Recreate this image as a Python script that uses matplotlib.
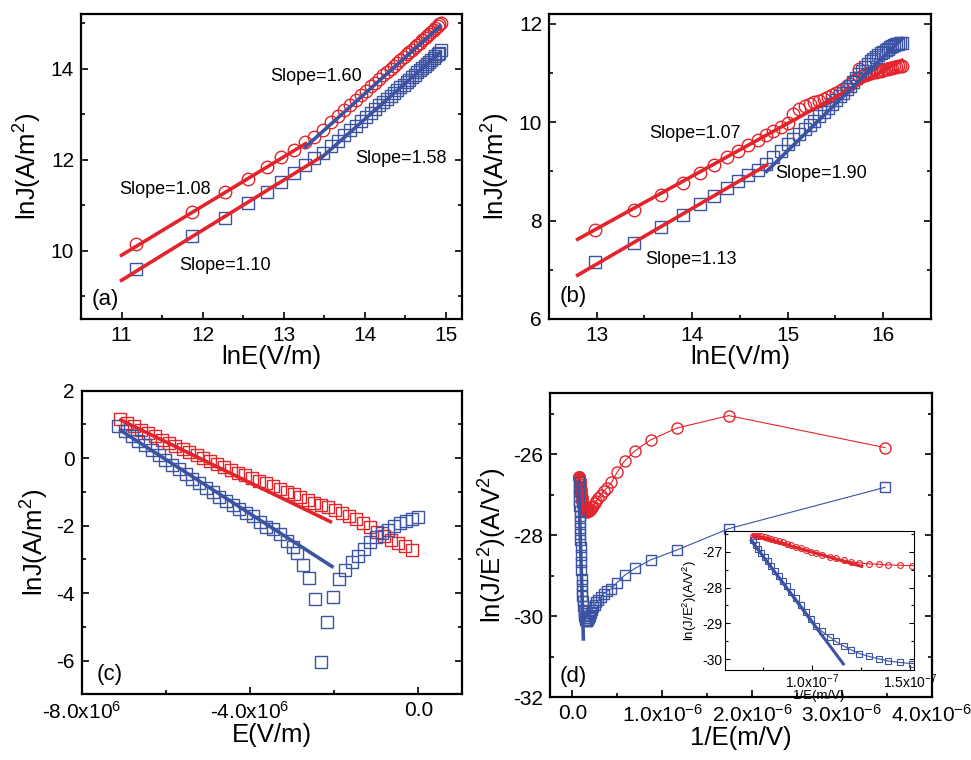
import matplotlib

matplotlib.use("Agg")
import matplotlib.pyplot as plt
import numpy as np
from matplotlib.ticker import FuncFormatter, MultipleLocator

plt.rcParams["font.family"] = ["Liberation Sans", "DejaVu Sans"]
plt.rcParams["mathtext.fontset"] = "custom"
plt.rcParams["mathtext.rm"] = "Liberation Sans"
plt.rcParams["mathtext.it"] = "Liberation Sans:italic"
plt.rcParams["mathtext.bf"] = "Liberation Sans:bold"
plt.rcParams["axes.unicode_minus"] = False

RED = "#e3242b"
BLUE = "#3c52a3"

# (a) lnJ vs lnE, two samples
lnE_a = [11.18, 11.87, 12.28, 12.56, 12.79, 12.97, 13.13, 13.26, 13.38, 13.48,
         13.58, 13.67, 13.75, 13.82, 13.89, 13.96, 14.02, 14.08, 14.13, 14.18,
         14.23, 14.28, 14.32, 14.36, 14.40, 14.44, 14.48, 14.52, 14.55, 14.58,
         14.62, 14.65, 14.68, 14.71, 14.74, 14.77, 14.79, 14.82, 14.85, 14.87,
         14.90, 14.92, 14.94]
lnJ_a_circle = [10.15, 10.85, 11.28, 11.58, 11.83, 12.05, 12.22, 12.38, 12.50, 12.66,
                12.82, 12.96, 13.09, 13.20, 13.31, 13.42, 13.51, 13.61, 13.69, 13.77,
                13.85, 13.93, 13.99, 14.05, 14.12, 14.18, 14.25, 14.31, 14.36, 14.41,
                14.47, 14.52, 14.57, 14.62, 14.67, 14.72, 14.75, 14.80, 14.85, 14.89,
                14.94, 14.98, 15.01]
lnJ_a_square = [9.60, 10.32, 10.72, 11.04, 11.30, 11.51, 11.70, 11.88, 12.03, 12.15,
                12.29, 12.42, 12.54, 12.65, 12.75, 12.85, 12.94, 13.03, 13.11, 13.19,
                13.27, 13.34, 13.40, 13.47, 13.53, 13.59, 13.65, 13.71, 13.76, 13.81,
                13.87, 13.92, 13.97, 14.01, 14.06, 14.11, 14.14, 14.19, 14.23, 14.27,
                14.31, 14.35, 14.40]
slope_a = [1.08, 1.60, 1.10, 1.58]
fit_x0_a = [11.0, 13.27, 11.0, 13.47]
fit_x1_a = [13.27, 14.93, 13.47, 14.93]
fit_y0_a = [9.90, 12.28, 9.35, 12.05]

# (b)
lnE_b = [12.98, 13.39, 13.67, 13.90, 14.08, 14.23, 14.37, 14.48, 14.59, 14.69,
         14.77, 14.85, 14.93, 15.00, 15.06, 15.12, 15.18, 15.23, 15.28, 15.33,
         15.38, 15.42, 15.47, 15.51, 15.55, 15.58, 15.62, 15.65, 15.69, 15.72,
         15.75, 15.78, 15.81, 15.84, 15.87, 15.90, 15.93, 15.95, 15.98, 16.00,
         16.03, 16.05, 16.07, 16.09, 16.12, 16.14, 16.16, 16.18, 16.20]
lnJ_b_circle = [7.81, 8.22, 8.52, 8.77, 8.97, 9.14, 9.29, 9.41, 9.53, 9.64,
                9.74, 9.82, 9.91, 9.99, 10.17, 10.26, 10.33, 10.37, 10.41, 10.44,
                10.48, 10.51, 10.56, 10.60, 10.64, 10.68, 10.73, 10.77, 10.83, 10.88,
                11.08, 10.93, 10.96, 10.98, 11.00, 11.02, 11.03, 11.04, 11.05, 11.06,
                11.08, 11.09, 11.10, 11.11, 11.12, 11.13, 11.14, 11.15, 11.15]
lnJ_b_square = [7.16, 7.55, 7.86, 8.12, 8.34, 8.50, 8.67, 8.80, 8.93, 9.03,
                9.16, 9.30, 9.42, 9.55, 9.66, 9.76, 9.86, 9.94, 10.03, 10.12,
                10.21, 10.29, 10.37, 10.45, 10.53, 10.60, 10.67, 10.74, 10.82, 10.90,
                10.97, 11.05, 11.12, 11.18, 11.24, 11.28, 11.32, 11.36, 11.40, 11.43,
                11.46, 11.49, 11.52, 11.54, 11.56, 11.58, 11.59, 11.61, 11.62]
slope_b = [1.07, 1.13, 1.90]
fit_x0_b = [12.8, 12.8, 14.78]
fit_x1_b = [16.2, 14.78, 16.2]
fit_y0_b = [7.62, 6.89, 9.00]

# (c) lnJ vs E (units of 1e6 V/m)
E_c_red = [-7.09, -6.92, -6.76, -6.59, -6.43, -6.26, -6.10, -5.93, -5.77, -5.60,
           -5.44, -5.27, -5.11, -4.94, -4.78, -4.61, -4.45, -4.28, -4.12, -3.95,
           -3.79, -3.62, -3.46, -3.29, -3.13, -2.96, -2.80, -2.63, -2.47, -2.30,
           -2.14, -1.97, -1.81, -1.64, -1.48, -1.31, -1.15, -0.98, -0.82, -0.65,
           -0.49, -0.32, -0.16]
lnJ_c_red = [1.16, 1.05, 0.95, 0.85, 0.75, 0.65, 0.55, 0.46, 0.37, 0.27,
             0.18, 0.09, 0.00, -0.09, -0.17, -0.26, -0.34, -0.43, -0.51, -0.59,
             -0.67, -0.75, -0.83, -0.91, -0.99, -1.07, -1.15, -1.23, -1.32, -1.39,
             -1.45, -1.53, -1.61, -1.70, -1.80, -1.92, -2.05, -2.20, -2.30, -2.42,
             -2.50, -2.60, -2.72]
E_c_blue = [-7.13, -6.97, -6.81, -6.65, -6.49, -6.33, -6.17, -6.01, -5.85, -5.69,
            -5.53, -5.37, -5.21, -5.05, -4.89, -4.73, -4.57, -4.41, -4.25, -4.09,
            -3.93, -3.77, -3.61, -3.45, -3.29, -3.13, -2.97, -2.89, -2.75, -2.59,
            -2.45, -2.31, -2.16, -2.02, -1.88, -1.73, -1.58, -1.44, -1.30, -1.15,
            -1.00, -0.86, -0.72, -0.58, -0.44, -0.30, -0.15, 0.00]
lnJ_c_blue = [0.96, 0.80, 0.66, 0.52, 0.38, 0.23, 0.09, -0.05, -0.19, -0.33,
              -0.47, -0.61, -0.75, -0.88, -1.01, -1.14, -1.27, -1.40, -1.52, -1.62,
              -1.72, -1.88, -2.03, -2.10, -2.25, -2.45, -2.62, -2.81, -3.18, -3.55,
              -4.16, -6.04, -4.86, -4.12, -3.58, -3.32, -3.09, -2.91, -2.69, -2.49,
              -2.33, -2.22, -2.12, -2.02, -1.93, -1.86, -1.80, -1.75]
fit_c_red_E = [-7.07, -2.09]
fit_c_red_lnJ = [1.13, -1.88]
fit_c_blue_E = [-7.07, -2.05]
fit_c_blue_lnJ = [0.82, -3.21]

# (d) ln(J/E^2) vs 1/E (units of 1e-7 m/V)
invE_d = [0.696, 0.710, 0.725, 0.740, 0.757, 0.773, 0.791, 0.809, 0.829, 0.849,
          0.870, 0.892, 0.916, 0.941, 0.967, 0.994, 1.02, 1.05, 1.09, 1.12,
          1.16, 1.20, 1.24, 1.29, 1.34, 1.39, 1.45, 1.51, 1.58, 1.66,
          1.74, 1.83, 1.93, 2.05, 2.18, 2.32, 2.49, 2.68, 2.90, 3.16,
          3.48, 3.87, 4.35, 4.97, 5.80, 6.96, 8.70, 11.6, 17.4, 34.8]
lnJE2_d_red = [-26.57, -26.56, -26.56, -26.57, -26.59, -26.61, -26.64, -26.67, -26.70, -26.74,
               -26.78, -26.82, -26.86, -26.90, -26.95, -27.00, -27.05, -27.09, -27.15, -27.19,
               -27.24, -27.28, -27.31, -27.34, -27.35, -27.37, -27.38, -27.39, -27.41, -27.42,
               -27.41, -27.40, -27.38, -27.35, -27.31, -27.27, -27.21, -27.15, -27.08, -27.00,
               -26.91, -26.83, -26.70, -26.45, -26.17, -25.92, -25.65, -25.36, -25.05, -25.84]
lnJE2_d_blue = [-26.68, -26.80, -26.92, -27.03, -27.15, -27.27, -27.40, -27.53, -27.67, -27.82,
                -27.97, -28.13, -28.30, -28.48, -28.67, -28.87, -29.08, -29.22, -29.38, -29.50,
                -29.63, -29.74, -29.84, -29.92, -29.99, -30.05, -30.09, -30.12, -30.12, -30.11,
                -30.09, -30.05, -30.00, -29.93, -29.84, -29.78, -29.72, -29.66, -29.60, -29.53,
                -29.45, -29.38, -29.32, -29.17, -28.99, -28.82, -28.61, -28.37, -27.84, -26.82]
fit_d_red_x = [0.698, 1.253]
fit_d_red_y = [-26.54, -27.41]
fit_d_blue_x = [0.688, 1.159]
fit_d_blue_y = [-26.69, -30.13]
fit_d_blue_main_x = [0.688, 1.22]
fit_d_blue_main_y = [-26.69, -30.56]

TICK_SIZE = 15
LABEL_SIZE = 18.5
SLOPE_SIZE = 13
PANEL_SIZE = 16


def style_axes(ax, spine=1.6, size=TICK_SIZE, major=5.0, minor=3.0, width=1.2):
    for spine_obj in ax.spines.values():
        spine_obj.set_linewidth(spine)
    ax.tick_params(which="both", direction="in", right=True, top=False,
                   labelsize=size, width=width, pad=5)
    ax.tick_params(which="major", length=major)
    ax.tick_params(which="minor", length=minor)


def sci_formatter(exponent):
    def fmt(value, _pos):
        if abs(value) < 1e-30:
            return "0.0"
        return f"{value / 10 ** exponent:.1f}x10$^{{{exponent}}}$"
    return FuncFormatter(fmt)


def draw_slope_fits(ax, slopes, x0s, x1s, y0s, colors):
    for slope, x0, x1, y0, color in zip(slopes, x0s, x1s, y0s, colors):
        xs = np.array([x0, x1])
        ax.plot(xs, y0 + slope * (xs - x0), color=color, lw=2.6, zorder=3)


circle_kw = dict(ls="none", marker="o", mfc="none", mew=1.0)
square_kw = dict(ls="none", marker="s", mfc="none", mew=1.0)

fig = plt.figure(figsize=(9.71, 7.60), dpi=100)

# ---- (a)
ax_a = fig.add_axes([0.0834, 0.5803, 0.3924, 0.4013])
ax_a.plot(lnE_a, lnJ_a_circle, color=RED, mec=RED, ms=9, **circle_kw)
ax_a.plot(lnE_a, lnJ_a_square, color=BLUE, mec=BLUE, ms=8, **square_kw)
draw_slope_fits(ax_a, slope_a, fit_x0_a, fit_x1_a, fit_y0_a, [RED, BLUE, RED, BLUE])
for slope, (tx, ty) in zip(slope_a, [(10.97, 11.35), (12.83, 13.83), (11.71, 9.68), (13.88, 12.03)]):
    ax_a.text(tx, ty, f"Slope={slope:.2f}", fontsize=SLOPE_SIZE, ha="left", va="center")
ax_a.set_xlim(10.5, 15.2)
ax_a.set_ylim(8.5, 15.2)
ax_a.xaxis.set_major_locator(MultipleLocator(1))
ax_a.xaxis.set_minor_locator(MultipleLocator(0.5))
ax_a.yaxis.set_major_locator(MultipleLocator(2))
ax_a.yaxis.set_minor_locator(MultipleLocator(1))
ax_a.set_xlabel("lnE(V/m)", fontsize=LABEL_SIZE, labelpad=0)
ax_a.set_ylabel("lnJ(A/m$^2$)", fontsize=LABEL_SIZE, labelpad=5)
ax_a.text(0.028, 0.03, "(a)", transform=ax_a.transAxes, fontsize=PANEL_SIZE, ha="left", va="bottom")
style_axes(ax_a)

# ---- (b)
ax_b = fig.add_axes([0.5654, 0.5803, 0.3931, 0.4013])
ax_b.plot(lnE_b, lnJ_b_circle, color=RED, mec=RED, ms=9, **circle_kw)
ax_b.plot(lnE_b, lnJ_b_square, color=BLUE, mec=BLUE, ms=8, **square_kw)
draw_slope_fits(ax_b, slope_b, fit_x0_b, fit_x1_b, fit_y0_b, [RED, RED, BLUE])
for slope, (tx, ty) in zip(slope_b, [(13.55, 9.77), (13.51, 7.21), (14.87, 8.95)]):
    ax_b.text(tx, ty, f"Slope={slope:.2f}", fontsize=SLOPE_SIZE, ha="left", va="center")
ax_b.set_xlim(12.5, 16.5)
ax_b.set_ylim(6, 12.2)
ax_b.xaxis.set_major_locator(MultipleLocator(1))
ax_b.xaxis.set_minor_locator(MultipleLocator(0.5))
ax_b.yaxis.set_major_locator(MultipleLocator(2))
ax_b.yaxis.set_minor_locator(MultipleLocator(1))
ax_b.set_xlabel("lnE(V/m)", fontsize=LABEL_SIZE, labelpad=0)
ax_b.set_ylabel("lnJ(A/m$^2$)", fontsize=LABEL_SIZE, labelpad=5)
ax_b.text(0.029, 0.04, "(b)", transform=ax_b.transAxes, fontsize=PANEL_SIZE, ha="left", va="bottom")
style_axes(ax_b)

# ---- (c)
ax_c = fig.add_axes([0.0841, 0.0864, 0.3913, 0.3995])
ax_c.plot(np.array(E_c_red) * 1e6, lnJ_c_red, color=RED, mec=RED, ms=8, **square_kw)
ax_c.plot(np.array(E_c_blue) * 1e6, lnJ_c_blue, color=BLUE, mec=BLUE, ms=8, **square_kw)
ax_c.plot(np.array(fit_c_red_E) * 1e6, fit_c_red_lnJ, color=RED, lw=2.6, zorder=3)
ax_c.plot(np.array(fit_c_blue_E) * 1e6, fit_c_blue_lnJ, color=BLUE, lw=2.6, zorder=3)
ax_c.set_xlim(-8.0e6, 1.03e6)
ax_c.set_ylim(-7, 2)
ax_c.xaxis.set_major_locator(MultipleLocator(4e6))
ax_c.xaxis.set_minor_locator(MultipleLocator(2e6))
ax_c.xaxis.set_major_formatter(sci_formatter(6))
ax_c.yaxis.set_major_locator(MultipleLocator(2))
ax_c.yaxis.set_minor_locator(MultipleLocator(1))
ax_c.set_xlabel("E(V/m)", fontsize=LABEL_SIZE, labelpad=0)
ax_c.set_ylabel("lnJ(A/m$^2$)", fontsize=LABEL_SIZE, labelpad=4)
ax_c.text(0.039, 0.03, "(c)", transform=ax_c.transAxes, fontsize=PANEL_SIZE, ha="left", va="bottom")
style_axes(ax_c)

# ---- (d)
invE = np.array(invE_d) * 1e-7
ax_d = fig.add_axes([0.5664, 0.0825, 0.3931, 0.4000])
ax_d.plot(invE, lnJE2_d_red, color=RED, lw=0.8, marker="o", mfc="none", mec=RED, ms=8, mew=1.0)
ax_d.plot(invE, lnJE2_d_blue, color=BLUE, lw=0.8, marker="s", mfc="none", mec=BLUE, ms=7, mew=1.0)
ax_d.plot(np.array(fit_d_red_x) * 1e-7, fit_d_red_y, color=RED, lw=2.6, zorder=3)
ax_d.plot(np.array(fit_d_blue_main_x) * 1e-7, fit_d_blue_main_y, color=BLUE, lw=2.6, zorder=3)
ax_d.set_xlim(-0.25e-6, 4.0e-6)
ax_d.set_ylim(-32, -24.5)
ax_d.xaxis.set_major_locator(MultipleLocator(1e-6))
ax_d.xaxis.set_minor_locator(MultipleLocator(0.5e-6))
ax_d.xaxis.set_major_formatter(sci_formatter(-6))
ax_d.yaxis.set_major_locator(MultipleLocator(2))
ax_d.yaxis.set_minor_locator(MultipleLocator(1))
ax_d.set_xlabel("1/E(m/V)", fontsize=LABEL_SIZE, labelpad=0)
ax_d.set_ylabel("ln(J/E$^2$)(A/V$^2$)", fontsize=LABEL_SIZE, labelpad=3)
ax_d.text(0.026, 0.035, "(d)", transform=ax_d.transAxes, fontsize=PANEL_SIZE, ha="left", va="bottom")
style_axes(ax_d)

# inset: zoom on the high-field end
ax_in = fig.add_axes([0.7467, 0.1184, 0.1941, 0.1833])
ax_in.plot(invE, lnJE2_d_red, color=RED, lw=0.8, marker="o", mfc="none", mec=RED, ms=4.2, mew=0.8)
ax_in.plot(invE, lnJE2_d_blue, color=BLUE, lw=0.8, marker="s", mfc="none", mec=BLUE, ms=4.0, mew=0.8)
ax_in.plot(np.array(fit_d_red_x) * 1e-7, fit_d_red_y, color=RED, lw=2.2, zorder=3)
ax_in.plot(np.array(fit_d_blue_x) * 1e-7, fit_d_blue_y, color=BLUE, lw=2.2, zorder=3)
ax_in.set_xlim(5.54e-8, 1.518e-7)
ax_in.set_ylim(-30.30, -26.415)
ax_in.xaxis.set_major_locator(MultipleLocator(0.5e-7))
ax_in.xaxis.set_minor_locator(MultipleLocator(0.25e-7))
ax_in.xaxis.set_major_formatter(
    FuncFormatter(lambda v, _p: "" if v < 0.9e-7 else f"{v / 1e-7:.1f}x10$^{{-7}}$"))
ax_in.yaxis.set_major_locator(MultipleLocator(1))
ax_in.yaxis.set_minor_locator(MultipleLocator(0.5))
ax_in.set_xlabel("1/E(m/V)", fontsize=9.5, labelpad=-1)
ax_in.set_ylabel("ln(J/E$^2$)(A/V$^2$)", fontsize=9.5, labelpad=2)
style_axes(ax_in, spine=0.8, size=10, major=3.5, minor=2.0, width=0.8)
ax_in.tick_params(which="both", pad=2)

fig.savefig("out.png", dpi=100)
